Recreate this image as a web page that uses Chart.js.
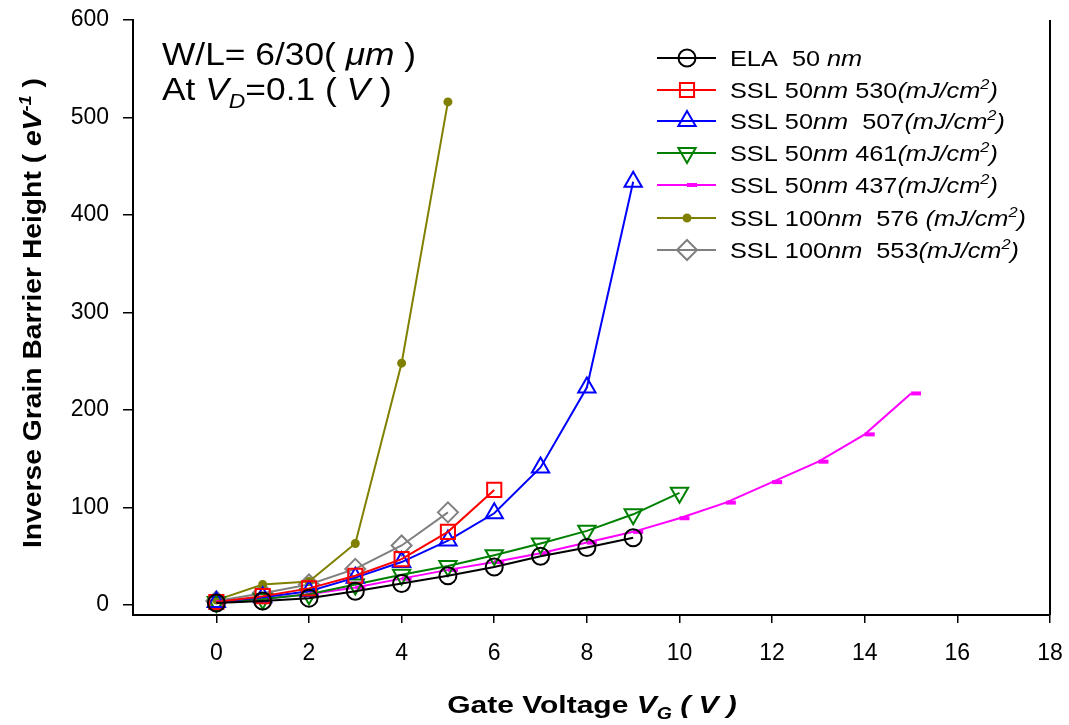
<!DOCTYPE html>
<html>
<head>
<meta charset="utf-8">
<script src="https://cdn.jsdelivr.net/npm/chart.js@4.4.1/dist/chart.umd.min.js"></script>
<style>
  html, body { margin: 0; padding: 0; background: #ffffff; }
  #wrap { width: 1069px; height: 725px; position: relative; }
</style>
</head>
<body>
<div id="wrap"><canvas id="c" width="1069" height="725"></canvas></div>
<script>
// Gate voltage steps (V)
const gateVoltage = [0, 1, 2, 3, 4, 5, 6, 7, 8, 9, 10, 11, 12, 13, 14, 15];

// Inverse grain barrier height (1/eV) per sample
const ela50      = [2, 4, 7, 14, 22, 30, 39, 50, 59, 69];
const ssl50_530  = [3, 9, 17, 30, 47, 75, 118];
const ssl50_507  = [3, 8, 14, 28, 44, 66, 94, 141, 223, 434];
const ssl50_461  = [3, 6, 11, 21, 31, 40, 51, 63, 76, 93, 115];
const ssl50_437  = [3, 6, 11, 18, 27, 36, 44, 53, 64, 75, 89, 105, 126, 147, 175, 217];
const ssl100_576 = [5, 21, 24, 63, 248, 516];
const ssl100_553 = [4, 12, 21, 37, 61, 95];

const seriesNames = [
  'ELA 50 nm',
  'SSL 50nm 530(mJ/cm2)',
  'SSL 50nm 507(mJ/cm2)',
  'SSL 50nm 461(mJ/cm2)',
  'SSL 50nm 437(mJ/cm2)',
  'SSL 100nm 576 (mJ/cm2)',
  'SSL 100nm 553(mJ/cm2)'
];

// Legend text with italic / superscript runs
const legendLabels = [
  [{t: 'ELA  50 '}, {t: 'nm', it: 1}],
  [{t: 'SSL 50'}, {t: 'nm', it: 1}, {t: ' 530'}, {t: '(mJ/cm', it: 1}, {t: '2', it: 1, sup: 1}, {t: ')', it: 1}],
  [{t: 'SSL 50'}, {t: 'nm', it: 1}, {t: '  507'}, {t: '(mJ/cm', it: 1}, {t: '2', it: 1, sup: 1}, {t: ')', it: 1}],
  [{t: 'SSL 50'}, {t: 'nm', it: 1}, {t: ' 461'}, {t: '(mJ/cm', it: 1}, {t: '2', it: 1, sup: 1}, {t: ')', it: 1}],
  [{t: 'SSL 50'}, {t: 'nm', it: 1}, {t: ' 437'}, {t: '(mJ/cm', it: 1}, {t: '2', it: 1, sup: 1}, {t: ')', it: 1}],
  [{t: 'SSL 100'}, {t: 'nm', it: 1}, {t: '  576 '}, {t: '(mJ/cm', it: 1}, {t: '2', it: 1, sup: 1}, {t: ')', it: 1}],
  [{t: 'SSL 100'}, {t: 'nm', it: 1}, {t: '  553'}, {t: '(mJ/cm', it: 1}, {t: '2', it: 1, sup: 1}, {t: ')', it: 1}]
];

const annotationLines = [
  [{t: 'W/L= 6/30( '}, {t: 'μm', it: 1}, {t: ' )'}],
  [{t: 'At '}, {t: 'V', it: 1}, {t: 'D', it: 1, sub: 1}, {t: '=0.1 ( '}, {t: 'V', it: 1}, {t: ' )'}]
];

const xTitle = [{t: 'Gate Voltage '}, {t: 'V', it: 1}, {t: 'G', it: 1, sub: 1}, {t: ' ( V )', it: 1}];
const yTitle = [{t: 'Inverse Grain Barrier Height ( '}, {t: 'eV', it: 1}, {t: '-1', it: 1, sup: 1}, {t: ' )'}];

const xTickValues = [0, 2, 4, 6, 8, 10, 12, 14, 16, 18];
const yTickValues = [0, 100, 200, 300, 400, 500, 600];

const FONT = '"Liberation Sans", Arial, Helvetica, sans-serif';

function toPoints(values) {
  return values.map((v, i) => ({x: gateVoltage[i], y: v}));
}

// short horizontal bar marker, sitting just right of the data point
function barMarker(color) {
  const c = document.createElement('canvas');
  c.width = 24; c.height = 6;
  const g = c.getContext('2d');
  g.fillStyle = color;
  g.fillRect(12, 1, 10, 4);
  return c;
}

const seriesStyles = [
  {color: '#000000', pointStyle: 'circle',   radius: 8.5, rotation: 0,   fill: 'rgba(0,0,0,0)'},
  {color: '#ff0000', pointStyle: 'rect',     radius: 10,  rotation: 0,   fill: 'rgba(0,0,0,0)'},
  {color: '#0000ff', pointStyle: 'triangle', radius: 10,  rotation: 0,   fill: 'rgba(0,0,0,0)'},
  {color: '#008000', pointStyle: 'triangle', radius: 10,  rotation: 180, fill: 'rgba(0,0,0,0)'},
  {color: '#ff00ff', pointStyle: barMarker('#ff00ff'), radius: 5, rotation: 0, fill: '#ff00ff'},
  {color: '#808000', pointStyle: 'circle',   radius: 3.5, rotation: 0,   fill: '#808000'},
  {color: '#808080', pointStyle: 'rectRot',  radius: 10,  rotation: 0,   fill: 'rgba(0,0,0,0)'}
];

const seriesData = [ela50, ssl50_530, ssl50_507, ssl50_461, ssl50_437, ssl100_576, ssl100_553];

const datasets = seriesData.map((vals, i) => {
  const s = seriesStyles[i];
  return {
    label: seriesNames[i],
    data: toPoints(vals),
    borderColor: s.color,
    backgroundColor: s.fill,
    borderWidth: 2,
    pointStyle: s.pointStyle,
    pointRadius: s.radius,
    pointHoverRadius: s.radius,
    pointRotation: s.rotation,
    pointBorderColor: s.color,
    pointBackgroundColor: s.fill,
    pointBorderWidth: 2,
    tension: 0,
    fill: false
  };
});

// ---- rich text helpers (italic / sub / superscript runs) ----
function segFont(s, base) {
  const sz = (s.sup || s.sub) ? base.size * 0.65 : base.size;
  return (s.it ? 'italic ' : '') + (base.weight || 'normal') + ' ' + sz + 'px ' + FONT;
}
function richWidth(ctx, segs, base) {
  let w = 0;
  for (const s of segs) { ctx.font = segFont(s, base); w += ctx.measureText(s.t).width; }
  return w * (base.stretch || 1);
}
function drawRich(ctx, segs, x, y, base, align) {
  const st = base.stretch || 1;
  const w = richWidth(ctx, segs, base);
  const x0 = align === 'center' ? x - w / 2 : x;
  ctx.save();
  ctx.translate(x0, y);
  ctx.scale(st, 1);
  ctx.textBaseline = 'alphabetic';
  ctx.textAlign = 'left';
  ctx.fillStyle = '#000';
  let cx = 0;
  for (const s of segs) {
    ctx.font = segFont(s, base);
    const dy = s.sup ? -base.size * 0.42 : (s.sub ? base.size * 0.25 : 0);
    ctx.fillText(s.t, cx, dy);
    cx += ctx.measureText(s.t).width;
  }
  ctx.restore();
}

const decorations = {
  id: 'decorations',
  afterDraw(chart) {
    const ctx = chart.ctx;
    const area = chart.chartArea;

    // right frame line
    ctx.save();
    ctx.strokeStyle = '#000';
    ctx.lineWidth = 2;
    ctx.beginPath();
    ctx.moveTo(area.right, area.top);
    ctx.lineTo(area.right, area.bottom);
    ctx.stroke();
    ctx.restore();

    // legend
    const rowY = [58, 90, 121, 153, 185, 218, 250];
    chart.data.datasets.forEach((ds, i) => {
      const y = rowY[i];
      ctx.save();
      ctx.strokeStyle = ds.borderColor;
      ctx.lineWidth = 2;
      ctx.beginPath();
      ctx.moveTo(657, y);
      ctx.lineTo(716, y);
      ctx.stroke();
      ctx.strokeStyle = ds.pointBorderColor;
      ctx.fillStyle = ds.pointBackgroundColor;
      ctx.lineWidth = ds.pointBorderWidth;
      Chart.helpers.drawPoint(ctx, {
        pointStyle: ds.pointStyle,
        rotation: ds.pointRotation,
        radius: ds.pointRadius,
        borderWidth: ds.pointBorderWidth
      }, 687, y);
      ctx.restore();
      drawRich(ctx, legendLabels[i], 730, y + 8, {size: 22, stretch: 1.15}, 'left');
    });

    // device annotation
    drawRich(ctx, annotationLines[0], 162, 65, {size: 31, stretch: 1.14}, 'left');
    drawRich(ctx, annotationLines[1], 162, 100, {size: 31, stretch: 1.14}, 'left');

    // axis titles
    drawRich(ctx, xTitle, 592, 713, {size: 24, weight: 'bold', stretch: 1.25}, 'center');
    ctx.save();
    ctx.translate(41, 313);
    ctx.rotate(-Math.PI / 2);
    drawRich(ctx, yTitle, 0, 0, {size: 25, weight: 'bold', stretch: 1.13}, 'center');
    ctx.restore();
  }
};

Chart.defaults.font.family = FONT;
Chart.defaults.color = '#000';

new Chart(document.getElementById('c'), {
  type: 'line',
  data: {datasets},
  plugins: [decorations],
  options: {
    responsive: false,
    animation: false,
    events: [],
    layout: {padding: {top: 20, right: 19, left: 0, bottom: 0}},
    plugins: {legend: {display: false}, tooltip: {enabled: false}},
    scales: {
      x: {
        type: 'linear',
        min: -1.8,
        max: 18,
        afterBuildTicks: s => { s.ticks = xTickValues.map(v => ({value: v})); },
        afterFit: s => { s.height = 110; s.paddingLeft = 0; s.paddingRight = 0; },
        grid: {display: true, drawOnChartArea: false, drawTicks: true, tickLength: 8, color: '#000', lineWidth: 1.5},
        border: {display: true, color: '#000', width: 2},
        ticks: {font: {size: 23}, color: '#000', padding: 17, maxRotation: 0}
      },
      y: {
        type: 'linear',
        min: -10.3,
        max: 600,
        afterBuildTicks: s => { s.ticks = yTickValues.map(v => ({value: v})); },
        afterFit: s => { s.width = 133; s.paddingTop = 0; s.paddingBottom = 0; },
        grid: {display: true, drawOnChartArea: false, drawTicks: true, tickLength: 10, color: '#000', lineWidth: 1.5},
        border: {display: true, color: '#000', width: 2},
        ticks: {font: {size: 23}, color: '#000', padding: 14}
      }
    }
  }
});
</script>
</body>
</html>
